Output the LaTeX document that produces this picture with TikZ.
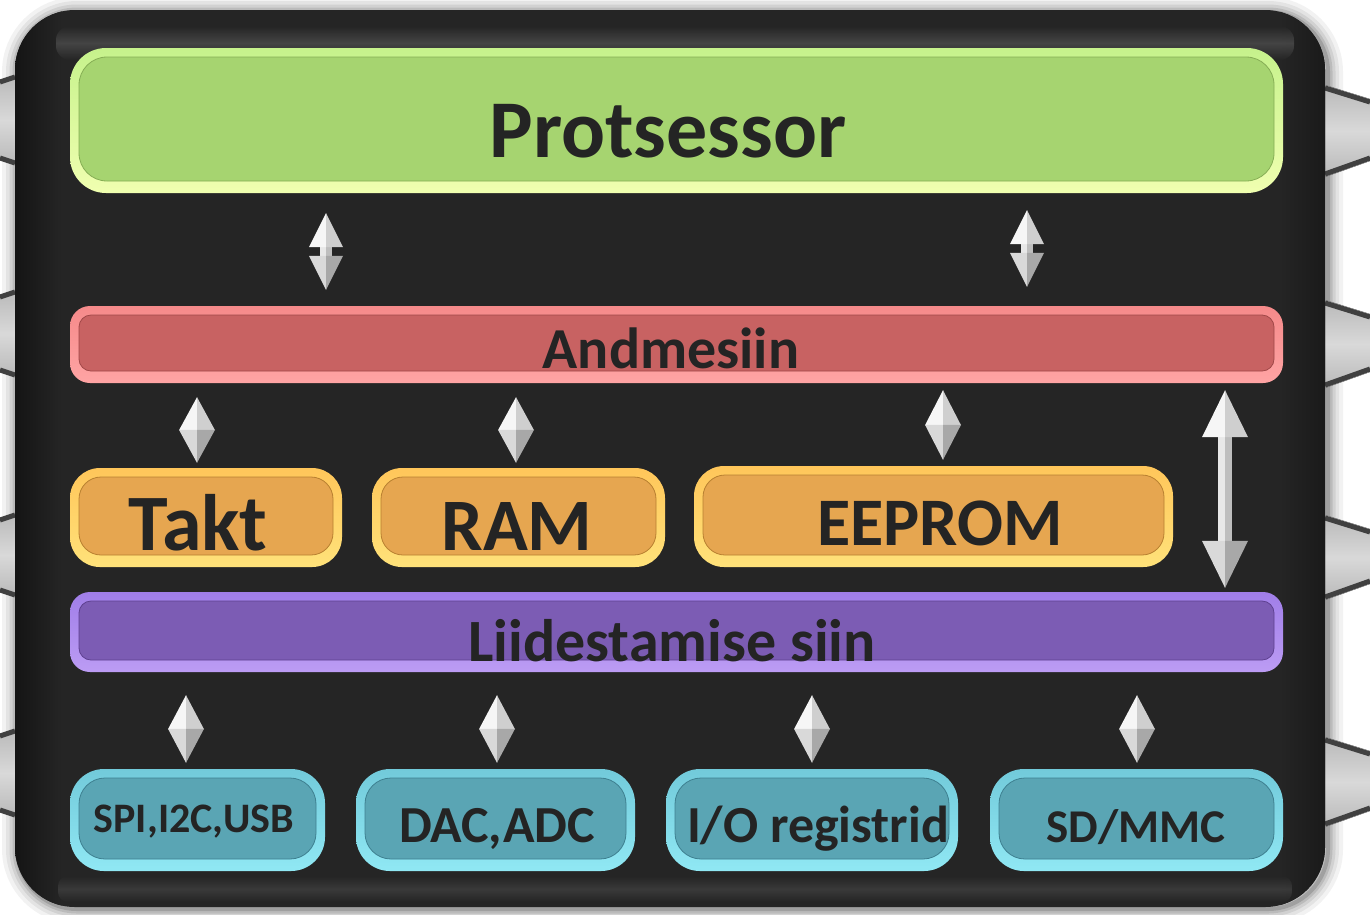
\documentclass[tikz,border=0pt]{standalone}
\usepackage{fontspec}
\setmainfont{Carlito}
\usetikzlibrary{calc}

\definecolor{bodyc}{HTML}{252525}
\definecolor{txt}{HTML}{242424}
% box palettes: rim top, rim bottom, face, outline
\definecolor{gRimT}{HTML}{C6F28C}\definecolor{gRimB}{HTML}{F0FFB0}\definecolor{gFace}{HTML}{A6D470}\definecolor{gLine}{HTML}{86AE55}
\definecolor{rRimT}{HTML}{F58A8A}\definecolor{rRimB}{HTML}{FFA4A4}\definecolor{rFace}{HTML}{C86262}\definecolor{rLine}{HTML}{A04848}
\definecolor{oRimT}{HTML}{FFC65A}\definecolor{oRimB}{HTML}{FFE27A}\definecolor{oFace}{HTML}{E6A650}\definecolor{oLine}{HTML}{B88030}
\definecolor{pRimT}{HTML}{A07EE8}\definecolor{pRimB}{HTML}{BC9CF4}\definecolor{pFace}{HTML}{7C5CB4}\definecolor{pLine}{HTML}{5E4090}
\definecolor{cRimT}{HTML}{72CADA}\definecolor{cRimB}{HTML}{90E8F4}\definecolor{cFace}{HTML}{5AA5B4}\definecolor{cLine}{HTML}{3E8090}
% arrow facets
\definecolor{hUL}{HTML}{F6F6F6}\definecolor{hUR}{HTML}{CFCFCF}
\definecolor{hDL}{HTML}{D9D9D9}\definecolor{hDR}{HTML}{A8A8A8}
\definecolor{sL}{HTML}{E8E8E8}\definecolor{sR}{HTML}{BEBEBE}

\tikzset{
  % glossy rounded box: rim top, rim bottom, face, outline, outer radius, inner radius
  gbox/.style n args={6}{draw=none, inner sep=0pt, rounded corners=#5,
    top color=#1, bottom color=#2,
    path picture={\draw[fill=#3, draw=#4, line width=0.8pt, rounded corners=#6]
      ([shift={(9pt,-9pt)}]path picture bounding box.north west) rectangle
      ([shift={(-9pt,12pt)}]path picture bounding box.south east);}},
  lbl/.style={text=txt, inner sep=0pt, anchor=base},
  pin/.style={top color=gray!55, bottom color=gray!55, middle color=gray!30},
  pinedge/.style={draw=black!75, line width=5pt},
}

% double-headed glossy arrow: top point, bottom point, head length, head half-width, shaft half-width
\newcommand\garrow[5]{%
  \coordinate (at) at #1; \coordinate (ab) at #2;
  \coordinate (ah1) at ($(at)+(0,#3)$);
  \coordinate (ah2) at ($(ab)+(0,-#3)$);
  \fill[sL] ($(ah1)+(-#5pt,0)$) rectangle (ah2);
  \fill[sR] (ah1) rectangle ($(ah2)+(#5pt,0)$);
  \fill[hUL] (at) -- ($(ah1)+(-#4pt,0)$) -- (ah1) -- cycle;
  \fill[hUR] (at) -- ($(ah1)+(#4pt,0)$) -- (ah1) -- cycle;
  \fill[hDL] (ab) -- ($(ah2)+(-#4pt,0)$) -- (ah2) -- cycle;
  \fill[hDR] (ab) -- ($(ah2)+(#4pt,0)$) -- (ah2) -- cycle;
}

\begin{document}
\begin{tikzpicture}[x=1pt, y=-1pt]
\useasboundingbox (0,0) rectangle (1370,914);
\fill[white] (0,0) rectangle (1370,914);

% soft halo around the package
\foreach \w/\o in {30/0.05,22/0.06,15/0.08,9/0.10,4/0.14}
  \draw[line width=\w pt, black, opacity=\o, rounded corners=60pt] (17,12) rectangle (1328,909);

% pins, left side
\foreach \a/\b in {75/165, 290/377, 513/597, 729/817}{
  \fill[pin] (15,\a) -- (0,\a+5) -- (0,\b-5) -- (15,\b) -- cycle;
  \draw[pinedge] (15,\a+2) -- (0,\a+7);
  \draw[pinedge] (15,\b-2) -- (0,\b-7);
}
% pins, right side
\foreach \a/\b in {85/177, 300/388, 515/600, 737/827}{
  \fill[pin] (1325,\a) -- (1370,\a+14) -- (1370,\b-16) -- (1325,\b) -- cycle;
  \draw[pinedge] (1325,\a+3) -- (1370,\a+17);
  \draw[pinedge] (1325,\b-3) -- (1370,\b-19);
}

% package body
\fill[bodyc, rounded corners=60pt] (15,10) rectangle (1325,907);
\begin{scope}
  \clip[rounded corners=60pt] (15,10) rectangle (1325,907);
  \shade[left color=black!92, right color=bodyc] (15,10) rectangle (62,907);
  \shade[left color=bodyc, right color=black!90] (1280,10) rectangle (1325,907);
  \shade[top color=bodyc, bottom color=bodyc, middle color=black!65, rounded corners=14pt, opacity=0.6] (56,26) rectangle (1294,60);
  \shade[top color=bodyc, bottom color=bodyc, middle color=black!72, rounded corners=10pt, opacity=0.6] (58,876) rectangle (1292,902);
\end{scope}

% functional blocks
\node[gbox={gRimT}{gRimB}{gFace}{gLine}{36pt}{28pt}, minimum width=1213pt, minimum height=145pt] (proc) at (676.5,120.5) {};
\node[gbox={rRimT}{rRimB}{rFace}{rLine}{20pt}{12pt}, minimum width=1213pt, minimum height=77pt] (andm) at (676.5,344.5) {};
\node[gbox={oRimT}{oRimB}{oFace}{oLine}{30pt}{22pt}, minimum width=272pt, minimum height=99pt] (takt) at (206,517.5) {};
\node[gbox={oRimT}{oRimB}{oFace}{oLine}{30pt}{22pt}, minimum width=293pt, minimum height=99pt] (ram) at (518.5,517.5) {};
\node[gbox={oRimT}{oRimB}{oFace}{oLine}{30pt}{22pt}, minimum width=479pt, minimum height=101pt] (eeprom) at (933.5,516.5) {};
\node[gbox={pRimT}{pRimB}{pFace}{pLine}{20pt}{12pt}, minimum width=1213pt, minimum height=80pt] (liid) at (676.5,632) {};
\node[gbox={cRimT}{cRimB}{cFace}{cLine}{34pt}{26pt}, minimum width=255pt, minimum height=102pt] (spi) at (197.5,820) {};
\node[gbox={cRimT}{cRimB}{cFace}{cLine}{34pt}{26pt}, minimum width=279pt, minimum height=102pt] (dac) at (495.5,820) {};
\node[gbox={cRimT}{cRimB}{cFace}{cLine}{34pt}{26pt}, minimum width=292pt, minimum height=102pt] (io) at (812,820) {};
\node[gbox={cRimT}{cRimB}{cFace}{cLine}{34pt}{26pt}, minimum width=293pt, minimum height=102pt] (sd) at (1136.5,820) {};

% labels
\node[lbl, font={\fontsize{82}{90}\selectfont\bfseries}] (procT) at (668,157) {Protsessor};
\node[lbl, font={\fontsize{58}{64}\selectfont\bfseries}] (andmT) at (671,368) {Andmesiin};
\node[lbl, font={\fontsize{80}{88}\selectfont\bfseries}] (taktT) at (198,550) {Takt};
\node[lbl, font={\fontsize{74}{82}\selectfont\bfseries}] (ramT) at (517,550) {RAM};
\node[lbl, font={\fontsize{68}{76}\selectfont\bfseries}] (eepromT) at (940,545) {EEPROM};
\node[lbl, font={\fontsize{60}{66}\selectfont\bfseries}] (liidT) at (672,661) {Liidestamise siin};
\node[lbl, font={\fontsize{42}{48}\selectfont\bfseries}] (spiT) at (194,832) {SPI,I2C,USB};
\node[lbl, font={\fontsize{52}{58}\selectfont\bfseries}] (dacT) at (497,842) {DAC,ADC};
\node[lbl, font={\fontsize{52}{58}\selectfont\bfseries}] (ioT) at (818,842) {I/O registrid};
\node[lbl, font={\fontsize{47}{54}\selectfont\bfseries}] (sdT) at (1136,842) {SD/MMC};

% arrow columns
\coordinate (k1) at (326,0);  \coordinate (k2) at (1027,0);
\coordinate (k3) at (197,0);  \coordinate (k4) at (516,0);
\coordinate (k5) at (943,0);  \coordinate (k6) at (1225,0);
\coordinate (k7) at (186,0);  \coordinate (k8) at (497,0);
\coordinate (k9) at (812,0);  \coordinate (k10) at (1137,0);

% processor <-> data bus
\garrow{($(proc.south -| k1)+(0,20)$)}{($(andm.north -| k1)+(0,-16)$)}{34}{17}{6}
\garrow{($(proc.south -| k2)+(0,17)$)}{($(andm.north -| k2)+(0,-19)$)}{34}{17}{6}
% data bus <-> clock, memories
\garrow{($(andm.south -| k3)+(0,14)$)}{($(takt.north -| k3)+(0,-5)$)}{33}{18}{0}
\garrow{($(andm.south -| k4)+(0,14)$)}{($(ram.north -| k4)+(0,-5)$)}{33}{18}{0}
\garrow{($(andm.south -| k5)+(0,7)$)}{($(eeprom.north -| k5)+(0,-6)$)}{35}{18}{0}
% data bus <-> interface bus
\garrow{($(andm.south -| k6)+(0,7)$)}{($(liid.north -| k6)+(0,-4)$)}{47}{23}{7}
% interface bus <-> peripherals
\garrow{($(liid.south -| k7)+(0,23)$)}{($(spi.north -| k7)+(0,-6)$)}{34}{18}{0}
\garrow{($(liid.south -| k8)+(0,23)$)}{($(dac.north -| k8)+(0,-6)$)}{34}{18}{0}
\garrow{($(liid.south -| k9)+(0,23)$)}{($(io.north -| k9)+(0,-6)$)}{34}{18}{0}
\garrow{($(liid.south -| k10)+(0,23)$)}{($(sd.north -| k10)+(0,-6)$)}{34}{18}{0}
\end{tikzpicture}
\end{document}
